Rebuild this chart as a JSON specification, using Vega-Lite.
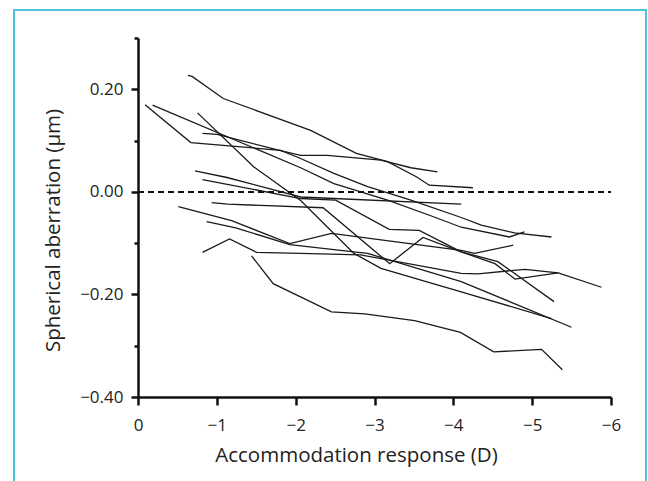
{
  "$schema": "https://vega.github.io/schema/vega-lite/v6.json",
  "width": 473,
  "height": 359,
  "autosize": {"type": "none"},
  "padding": {"left": 138, "top": 38, "right": 37, "bottom": 84},
  "background": "white",
  "config": {"view": {"stroke": null}, "font": "Open Sans"},
  "data": {"values": [
    {"s":"a","x":-0.633,"y":0.227},{"s":"a","x":-0.686,"y":0.225},{"s":"a","x":-1.082,"y":0.182},{"s":"a","x":-2.19,"y":0.12},{"s":"a","x":-2.77,"y":0.075},{"s":"a","x":-3.166,"y":0.059},{"s":"a","x":-3.536,"y":0.029},{"s":"a","x":-3.694,"y":0.013},{"s":"a","x":-4.248,"y":0.008},
    {"s":"b","x":-0.818,"y":0.114},{"s":"b","x":-1.003,"y":0.112},{"s":"b","x":-1.821,"y":0.08},{"s":"b","x":-2.063,"y":0.071},{"s":"b","x":-2.401,"y":0.071},{"s":"b","x":-3.082,"y":0.062},{"s":"b","x":-3.462,"y":0.047},{"s":"b","x":-3.799,"y":0.039},
    {"s":"c","x":-0.09,"y":0.17},{"s":"c","x":-0.67,"y":0.096},{"s":"c","x":-1.81,"y":0.081},{"s":"c","x":-2.063,"y":0.065},{"s":"c","x":-2.485,"y":0.036},{"s":"c","x":-2.913,"y":0.01},{"s":"c","x":-3.462,"y":-0.016},{"s":"c","x":-4.1,"y":-0.05},{"s":"c","x":-4.354,"y":-0.065},{"s":"c","x":-4.776,"y":-0.08},{"s":"c","x":-5.245,"y":-0.088},
    {"s":"d","x":-0.185,"y":0.169},{"s":"d","x":-2.063,"y":0.047},{"s":"d","x":-2.485,"y":0.016},{"s":"d","x":-3.166,"y":-0.016},{"s":"d","x":-3.757,"y":-0.049},{"s":"d","x":-4.1,"y":-0.069},{"s":"d","x":-4.712,"y":-0.088},{"s":"d","x":-4.902,"y":-0.078},
    {"s":"e","x":-0.755,"y":0.154},{"s":"e","x":-1.467,"y":0.049},{"s":"e","x":-2.063,"y":-0.017},{"s":"e","x":-2.739,"y":-0.12},{"s":"e","x":-3.082,"y":-0.149},{"s":"e","x":-4.1,"y":-0.195},{"s":"e","x":-5.245,"y":-0.247},
    {"s":"f","x":-0.723,"y":0.041},{"s":"f","x":-1.129,"y":0.028},{"s":"f","x":-2.063,"y":-0.01},{"s":"f","x":-2.485,"y":-0.013},{"s":"f","x":-4.1,"y":-0.024},
    {"s":"g","x":-0.818,"y":0.024},{"s":"g","x":-2.063,"y":-0.013},{"s":"g","x":-2.507,"y":-0.016},{"s":"g","x":-3.187,"y":-0.073},{"s":"g","x":-3.567,"y":-0.075},{"s":"g","x":-4.1,"y":-0.117},{"s":"g","x":-4.528,"y":-0.14},{"s":"g","x":-4.781,"y":-0.17},{"s":"g","x":-5.33,"y":-0.158},
    {"s":"h","x":-0.934,"y":-0.021},{"s":"h","x":-1.135,"y":-0.024},{"s":"h","x":-2.348,"y":-0.031},{"s":"h","x":-3.193,"y":-0.14},{"s":"h","x":-3.615,"y":-0.089},{"s":"h","x":-4.1,"y":-0.117},{"s":"h","x":-4.565,"y":-0.136},{"s":"h","x":-5.277,"y":-0.214},
    {"s":"i","x":-0.512,"y":-0.029},{"s":"i","x":-1.187,"y":-0.056},{"s":"i","x":-1.926,"y":-0.101},{"s":"i","x":-2.454,"y":-0.081},{"s":"i","x":-4.1,"y":-0.114},{"s":"i","x":-4.269,"y":-0.12},{"s":"i","x":-4.76,"y":-0.104},
    {"s":"j","x":-0.871,"y":-0.058},{"s":"j","x":-1.24,"y":-0.07},{"s":"j","x":-1.926,"y":-0.103},{"s":"j","x":-2.739,"y":-0.117},{"s":"j","x":-2.913,"y":-0.12},{"s":"j","x":-4.1,"y":-0.175},{"s":"j","x":-5.499,"y":-0.264},
    {"s":"k","x":-0.818,"y":-0.118},{"s":"k","x":-1.161,"y":-0.092},{"s":"k","x":-1.504,"y":-0.118},{"s":"k","x":-2.063,"y":-0.12},{"s":"k","x":-2.823,"y":-0.123},{"s":"k","x":-4.1,"y":-0.159},{"s":"k","x":-4.311,"y":-0.16},{"s":"k","x":-4.908,"y":-0.151},{"s":"k","x":-5.33,"y":-0.158},{"s":"k","x":-5.879,"y":-0.186},
    {"s":"l","x":-1.441,"y":-0.125},{"s":"l","x":-1.715,"y":-0.179},{"s":"l","x":-2.454,"y":-0.234},{"s":"l","x":-2.876,"y":-0.238},{"s":"l","x":-3.509,"y":-0.251},{"s":"l","x":-4.09,"y":-0.274},{"s":"l","x":-4.512,"y":-0.312},{"s":"l","x":-5.119,"y":-0.307},{"s":"l","x":-5.383,"y":-0.347}
  ]},
  "layer": [
    {
      "mark": {"type": "line", "color": "#1a1a1a", "strokeWidth": 1.3},
      "encoding": {
        "x": {
          "field": "x", "type": "quantitative",
          "scale": {"domain": [0, -6], "nice": false, "zero": false},
          "axis": {
            "values": [0, -0.5, -1, -1.5, -2, -2.5, -3, -3.5, -4, -4.5, -5, -5.5, -6],
            "labelExpr": "datum.value % 1 == 0 ? format(datum.value, 'd') : ''",
            "grid": false,
            "domainColor": "#111", "domainWidth": 2.5,
            "tickColor": "#111", "tickWidth": 2.5,
            "tickSize": {"condition": {"test": "datum.value % 1 == 0", "value": 8}, "value": 4},
            "labelPadding": 12,
            "labelFontSize": 17, "labelColor": "#222", "labelFont": "Open Sans",
            "labelFlush": false, "labelOverlap": false,
            "title": "Accommodation response (D)",
            "titleFontSize": 20.5, "titleFontWeight": "normal", "titleColor": "#222", "titleFont": "Open Sans",
            "titleX": 218, "titleY": 58, "titleBaseline": "middle", "titleAlign": "center"
          }
        },
        "y": {
          "field": "y", "type": "quantitative",
          "scale": {"domain": [-0.4, 0.3], "nice": false, "zero": false},
          "axis": {
            "values": [-0.4, -0.3, -0.2, -0.1, 0, 0.1, 0.2, 0.3],
            "labelExpr": "round(datum.value * 10) % 2 == 0 ? format(datum.value, '.2f') : ''",
            "grid": false,
            "domainColor": "#111", "domainWidth": 2.5,
            "tickColor": "#111", "tickWidth": 2.5,
            "tickSize": {"condition": {"test": "round(datum.value * 10) % 2 == 0", "value": 7}, "value": 4},
            "labelPadding": 8,
            "labelFontSize": 17, "labelColor": "#222", "labelFont": "Open Sans",
            "labelFlush": false, "labelOverlap": false,
            "title": "Spherical aberration (μm)",
            "titleFontSize": 20.5, "titleFontWeight": "normal", "titleColor": "#222", "titleFont": "Open Sans",
            "titleX": -85, "titleY": 192, "titleBaseline": "middle", "titleAlign": "center", "titleAngle": -90
          }
        },
        "detail": {"field": "s", "type": "nominal"}
      }
    },
    {
      "mark": {"type": "rule", "color": "#111", "strokeWidth": 1.5, "strokeDash": [6, 4]},
      "encoding": {
        "x": {"datum": 0, "type": "quantitative"},
        "x2": {"datum": -6},
        "y": {"datum": 0, "type": "quantitative"}
      }
    },
    {
      "mark": {"type": "rect", "fill": null, "stroke": "#4cc3da", "strokeWidth": 1.5},
      "encoding": {
        "x": {"datum": 1.573, "type": "quantitative"},
        "x2": {"datum": -6.444},
        "y": {"datum": 0.3545, "type": "quantitative"},
        "y2": {"datum": -0.75}
      }
    }
  ]
}
